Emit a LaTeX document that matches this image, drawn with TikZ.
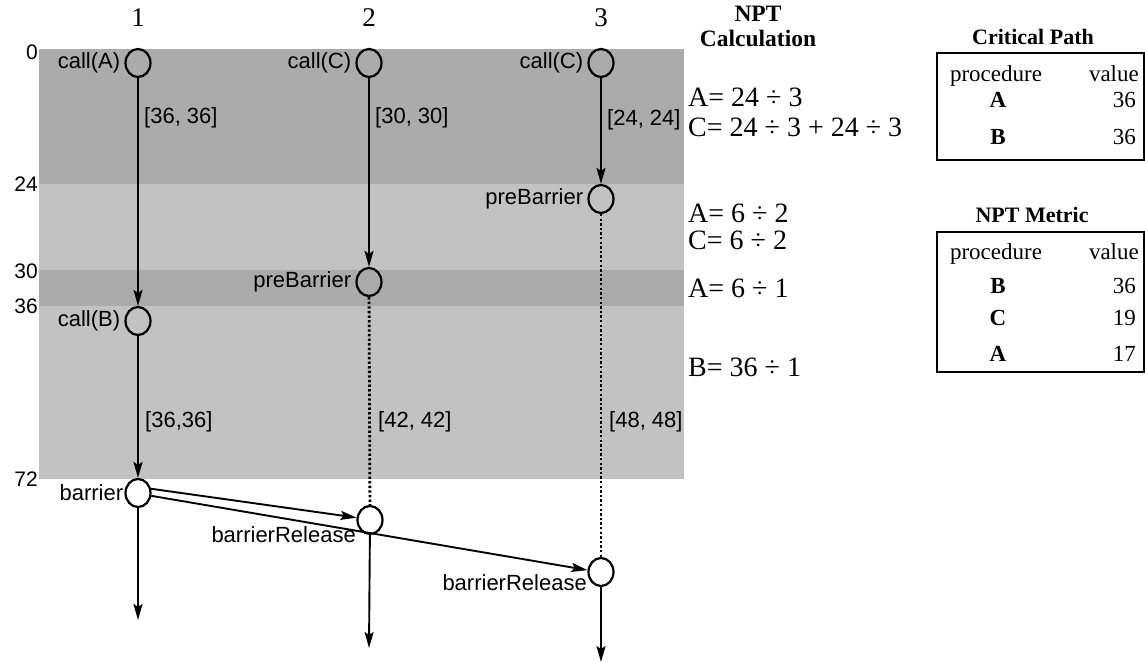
\documentclass[tikz,border=0pt]{standalone}
\usepackage{fontspec}
\setmainfont{Liberation Serif}
\newfontfamily\hv{Liberation Sans}
\usetikzlibrary{arrows.meta,shapes.geometric}
\begin{document}
\begin{tikzpicture}[x=1pt,y=-1pt,
  ev/.style={draw, ellipse, line width=2.2pt, minimum width=25pt, minimum height=28pt, inner sep=0pt},
  arr/.style={line width=1.9pt, -{Stealth[length=16pt,width=9pt,inset=3pt]}},
  dotline/.style={line width=2.8pt, dash pattern=on 2.4pt off 2.2pt},
  lbl/.style={font=\hv\fontsize{22}{24}\selectfont, inner sep=0pt},
  lvl/.style={font=\hv\fontsize{21}{23}\selectfont, inner sep=0pt, anchor=east},
  col/.style={font=\fontsize{27}{29}\selectfont, inner sep=0pt},
  eq/.style={font=\fontsize{28}{30}\selectfont, inner sep=0pt, anchor=west},
  ttl/.style={font=\bfseries\fontsize{22}{23}\selectfont, inner sep=0pt},
  cell/.style={font=\fontsize{23}{25}\selectfont, inner sep=0pt, anchor=base},
  cellr/.style={cell, anchor=base east},
  cellb/.style={cell, font=\bfseries\fontsize{23}{25}\selectfont},
  box/.style={draw, line width=2pt}
]
\useasboundingbox (0,0) rectangle (1145,668);

% shaded time bands
\fill[black!33] (39,49) rectangle (684,184);
\fill[black!24] (39,184) rectangle (684,270);
\fill[black!33] (39,270) rectangle (684,306);
\fill[black!24] (39,306) rectangle (684,479);

% processor numbers
\node[col] (p1) at (138,18) {1};
\node[col] (p2) at (369,18) {2};
\node[col] (p3) at (601,18) {3};

% time axis
\node[lvl] (t0)  at (38,52)  {0};
\node[lvl] (t24) at (38,184) {24};
\node[lvl] (t30) at (38,271) {30};
\node[lvl] (t36) at (38,306) {36};
\node[lvl] (t72) at (38,479) {72};

% events
\node[ev] (cA)  at (138,63)  {};
\node[ev] (cC2) at (369,63)  {};
\node[ev] (cC3) at (601,63)  {};
\node[ev] (pb3) at (601,199) {};
\node[ev] (pb2) at (369,282) {};
\node[ev] (cB)  at (138,321) {};
\node[ev] (bar) at (138,493) {};
\node[ev] (rl2) at (370,520) {};
\node[ev] (rl3) at (601,572) {};

% event names
\node[lbl, anchor=east] (ncA)  at ([xshift=-4pt]cA.west)  {call(A)};
\node[lbl, anchor=east] (ncC2) at ([xshift=-4pt]cC2.west) {call(C)};
\node[lbl, anchor=east] (ncC3) at ([xshift=-4pt]cC3.west) {call(C)};
\node[lbl, anchor=east] (npb3) at ([xshift=-4pt]pb3.west) {preBarrier};
\node[lbl, anchor=east] (npb2) at ([xshift=-4pt]pb2.west) {preBarrier};
\node[lbl, anchor=east] (ncB)  at ([xshift=-4pt]cB.west)  {call(B)};
\node[lbl, anchor=east] (nbar) at ([xshift=-1pt]bar.west) {barrier};
\node[lbl, anchor=north east] (nrl2) at (356,526) {barrierRelease};
\node[lbl, anchor=north east] (nrl3) at (587,574) {barrierRelease};

% free ends of the outgoing arrows
\coordinate (e1) at (138,620);
\coordinate (e2) at (369,648);
\coordinate (e3) at (601,662);

% connectors
\draw[arr] (cA) -- (cB);
\draw[arr] (cC2) -- (pb2);
\draw[arr] (cC3) -- (pb3);
\draw[arr] (cB) -- (bar);
\draw[dotline] (pb2) -- (rl2);
\draw[dotline] (pb3) -- (rl3);
\draw[arr] (bar.18) -- (rl2.170);
\draw[arr] (bar.-12) -- (rl3.172);
\draw[arr] (bar) -- (e1);
\draw[arr] (rl2) -- (e2);
\draw[arr] (rl3) -- (e3);

% interval labels
\node[lbl, anchor=west] (i1) at (144,118) {[36, 36]};
\node[lbl, anchor=west] (i2) at (375,118) {[30, 30]};
\node[lbl, anchor=west] (i3) at (607,120) {[24, 24]};
\node[lbl, anchor=west] (i4) at (145,422) {[36,36]};
\node[lbl, anchor=west] (i5) at (378,422) {[42, 42]};
\node[lbl, anchor=west] (i6) at (609,422) {[48, 48]};

% NPT calculation
\node[ttl, font=\bfseries\fontsize{23.5}{24}\selectfont] (nptc1) at (758,14) {NPT};
\node[ttl, font=\bfseries\fontsize{23.5}{24}\selectfont] (nptc2) at (758,38) {Calculation};
\node[eq] (q1) at (688,97)  {A= 24 ÷ 3};
\node[eq] (q2) at (688,127) {C= 24 ÷ 3 + 24 ÷ 3};
\node[eq] (q3) at (688,213) {A= 6 ÷ 2};
\node[eq] (q4) at (688,240) {C= 6 ÷ 2};
\node[eq] (q5) at (688,288) {A= 6 ÷ 1};
\node[eq] (q6) at (688,367) {B= 36 ÷ 1};

% critical path table
\node[ttl] (cpt) at (1033,37) {Critical Path};
\draw[box] (937,53) rectangle (1144,160);
\node[cell]  (cp0a) at (996,82)   {procedure};
\node[cellr] (cp0b) at (1139,82)  {value};
\node[cellb] (cp1a) at (998,108)  {A};
\node[cellr] (cp1b) at (1136,108) {36};
\node[cellb] (cp2a) at (998,145)  {B};
\node[cellr] (cp2b) at (1136,145) {36};

% NPT metric table
\node[ttl] (nmt) at (1032,215) {NPT Metric};
\draw[box] (937,232) rectangle (1144,372);
\node[cell]  (nm0a) at (996,260)  {procedure};
\node[cellr] (nm0b) at (1139,260) {value};
\node[cellb] (nm1a) at (998,293)  {B};
\node[cellr] (nm1b) at (1136,293) {36};
\node[cellb] (nm2a) at (998,325)  {C};
\node[cellr] (nm2b) at (1136,325) {19};
\node[cellb] (nm3a) at (998,361)  {A};
\node[cellr] (nm3b) at (1136,361) {17};
\end{tikzpicture}
\end{document}
